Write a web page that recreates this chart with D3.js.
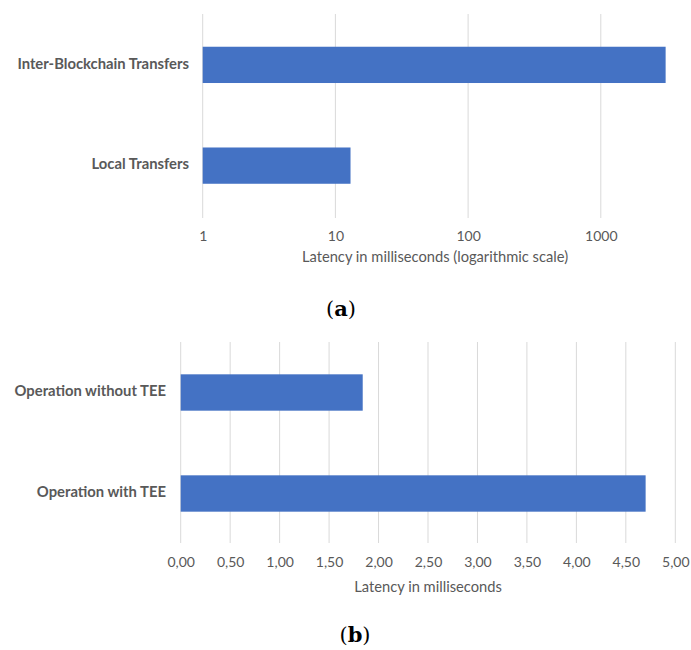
<!DOCTYPE html>
<html>
<head>
<meta charset="utf-8">
<script src="https://cdn.jsdelivr.net/npm/d3@7"></script>
<style>
  html, body { margin: 0; padding: 0; background: #fff; }
  svg { display: block; }
</style>
</head>
<body>
<svg id="fig" width="691" height="650"></svg>
<script>
// Panel (a): transfer latency, logarithmic axis
const transferCategories = ["Inter-Blockchain Transfers", "Local Transfers"];
const transferLatency = [3080, 13];
const logTicks = [1, 10, 100, 1000];

// Panel (b): operation latency with and without TEE
const teeCategories = ["Operation without TEE", "Operation with TEE"];
const teeLatency = [1.84, 4.70];
const linTicks = [0, 0.5, 1, 1.5, 2, 2.5, 3, 3.5, 4, 4.5, 5];

const BAR = "#4472C4";
const GRID = "#d9d9d9";
const TEXT = "#595959";
const FONT = "Lato, 'Open Sans', sans-serif";

const svg = d3.select("#fig");

function panel(opts) {
  const g = svg.append("g");
  const x = opts.x, y = opts.y;

  // vertical gridlines
  g.append("g").selectAll("line").data(opts.ticks).join("line")
    .attr("x1", d => x(d)).attr("x2", d => x(d))
    .attr("y1", opts.gridTop).attr("y2", opts.gridBottom)
    .attr("stroke", GRID).attr("stroke-width", 1);

  // bars
  g.append("g").selectAll("rect").data(opts.values).join("rect")
    .attr("x", x(opts.base))
    .attr("y", (d, i) => y(opts.categories[i]))
    .attr("width", d => x(d) - x(opts.base))
    .attr("height", y.bandwidth())
    .attr("fill", BAR);

  // tick labels via d3 axis
  const axis = d3.axisBottom(x).tickValues(opts.ticks).tickFormat(opts.format)
    .tickSize(0).tickPadding(0);
  const ag = g.append("g").attr("transform", `translate(0,${opts.tickY})`).call(axis);
  ag.select(".domain").remove();
  ag.selectAll("text")
    .attr("dy", null).attr("y", 0)
    .attr("dominant-baseline", "middle")
    .attr("fill", TEXT).style("font-family", FONT).style("font-size", "14px");

  // category labels
  g.append("g").selectAll("text").data(opts.categories).join("text")
    .attr("x", opts.labelX)
    .attr("y", d => y(d) + y.bandwidth() / 2)
    .attr("text-anchor", "end").attr("dominant-baseline", "middle")
    .attr("fill", TEXT).style("font-family", FONT)
    .style("font-size", "14.8px").style("font-weight", "bold")
    .text(d => d);

  // axis title
  g.append("text")
    .attr("x", opts.titleX).attr("y", opts.titleY)
    .attr("text-anchor", "middle").attr("dominant-baseline", "middle")
    .attr("fill", TEXT).style("font-family", FONT).style("font-size", "14.7px")
    .text(opts.title);

  // caption
  const cap = g.append("text")
    .attr("x", opts.capX).attr("y", opts.capY)
    .attr("text-anchor", "middle").attr("dominant-baseline", "middle")
    .style("font-family", "'DejaVu Serif', 'Liberation Serif', serif")
    .style("font-size", "21px").attr("fill", "#000");
  cap.append("tspan").text("(");
  cap.append("tspan").style("font-weight", "bold").text(opts.letter);
  cap.append("tspan").text(")");
}

// (a)
const xa = d3.scaleLog().domain([1, 1000]).range([202.7, 600.8]);
const ya = d3.scaleBand().domain(transferCategories).range([14.5, 216]).paddingInner(0.64).paddingOuter(0.32);
panel({
  x: xa, y: ya, base: 1, values: transferLatency, categories: transferCategories,
  ticks: logTicks, format: d3.format("d"),
  gridTop: 14, gridBottom: 218, tickY: 237, labelX: 189,
  title: "Latency in milliseconds (logarithmic scale)", titleX: 435, titleY: 258,
  letter: "a", capX: 341, capY: 310
});

// (b)
const xb = d3.scaleLinear().domain([0, 5]).range([180.7, 675.3]);
const yb = d3.scaleBand().domain(teeCategories).range([342, 544]).paddingInner(0.64).paddingOuter(0.32);
panel({
  x: xb, y: yb, base: 0, values: teeLatency, categories: teeCategories,
  ticks: linTicks, format: d => d3.format(".2f")(d).replace(".", ","),
  gridTop: 342, gridBottom: 543, tickY: 563, labelX: 166,
  title: "Latency in milliseconds", titleX: 428, titleY: 588,
  letter: "b", capX: 355, capY: 636
});
</script>
</body>
</html>
